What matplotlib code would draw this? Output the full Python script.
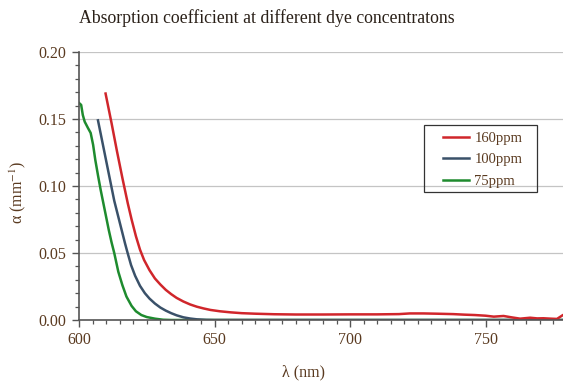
import matplotlib
matplotlib.use("Agg")
import matplotlib.pyplot as plt
from matplotlib.ticker import MultipleLocator
from matplotlib.patches import Rectangle

plt.rcParams['font.family'] = ['Liberation Serif', 'DejaVu Serif']
plt.rcParams['mathtext.fontset'] = 'stix'

# values
wl_160 = [609.8, 612.0, 614.0, 616.0, 618.0, 619.4, 621.0, 622.5, 624.0, 626.0, 628.0,
          630.0, 632.0, 634.0, 636.0, 638.5, 641.0, 643.5, 646.0, 648.5, 652.0, 656.0,
          660.0, 665.0, 672.0, 680.0, 690.0, 700.0, 710.0, 718.0, 722.0, 727.0, 732.0,
          738.0, 742.0, 746.0, 750.0, 753.0, 756.6, 759.5, 762.7, 766.4, 769.0, 771.3,
          774.0, 776.3, 778.5, 780.0]
a_160 = [0.169, 0.147, 0.126, 0.106, 0.087, 0.075, 0.0625, 0.0525, 0.0448, 0.0372, 0.031,
         0.0265, 0.0225, 0.0193, 0.0165, 0.0138, 0.0116, 0.0099, 0.0086, 0.0075, 0.0065, 0.0057,
         0.0051, 0.0047, 0.0043, 0.0041, 0.0041, 0.0042, 0.0042, 0.0044, 0.0049, 0.0049, 0.0047,
         0.0044, 0.0040, 0.0037, 0.0032, 0.0025, 0.0030, 0.0020, 0.0010, 0.0017, 0.0012, 0.0013,
         0.0010, 0.0008, 0.0037, 0.0045]

wl_100 = [607.0, 609.0, 611.0, 612.0, 613.0, 614.0, 615.0, 616.0, 617.0, 617.8, 619.2,
          620.7, 622.5, 624.3, 626.0, 628.0, 630.0, 632.0, 634.0, 636.0, 638.5, 641.0,
          643.5, 647.0, 650.0, 780.0]
a_100 = [0.149, 0.129, 0.109, 0.099, 0.089, 0.081, 0.073, 0.065, 0.057, 0.051, 0.041,
         0.0330, 0.0255, 0.0200, 0.0160, 0.0123, 0.0093, 0.0070, 0.0051, 0.0035, 0.0020, 0.0011,
         0.0005, 0.0001, 0.0, 0.0]

wl_75 = [600.0, 600.8, 601.4, 602.1, 603.3, 604.3, 605.2, 606.0, 607.0, 608.0, 609.0,
         610.0, 611.0, 612.0, 613.0, 614.5, 616.0, 617.5, 619.4, 621.0, 623.0, 625.0,
         628.0, 631.0, 634.0, 780.0]
a_75 = [0.162, 0.1605, 0.153, 0.148, 0.1433, 0.1396, 0.1308, 0.1196, 0.108, 0.097, 0.087,
        0.077, 0.067, 0.058, 0.050, 0.036, 0.026, 0.0175, 0.0105, 0.0065, 0.0037, 0.0022,
        0.0010, 0.0002, 0.0, 0.0]

labels = ['160ppm', '100ppm', '75ppm']
colors = ['#d0262b', '#3a5169', '#1e8b2e']

tick_color = '#5a3a20'
W, H = 563, 381

fig = plt.figure(figsize=(5.63, 3.81), dpi=100)
ax = fig.add_axes([79 / W, 1 - 320 / H, 488 / W, 268 / H])

l75, = ax.plot(wl_75, a_75, color=colors[2], lw=1.8, zorder=3)
l100, = ax.plot(wl_100, a_100, color=colors[1], lw=1.8, zorder=4)
l160, = ax.plot(wl_160, a_160, color=colors[0], lw=1.8, zorder=5)

ax.set_xlim(600, 780)
ax.set_ylim(0, 0.20)
ax.xaxis.set_major_locator(MultipleLocator(50))
ax.xaxis.set_minor_locator(MultipleLocator(5))
ax.yaxis.set_major_locator(MultipleLocator(0.05))
ax.yaxis.set_minor_locator(MultipleLocator(0.01))
ax.yaxis.set_major_formatter(plt.FuncFormatter(lambda v, p: f"{v:.2f}"))

ax.grid(axis='y', which='major', color='#c4c4c4', lw=0.9, zorder=1)
for s in ['top', 'right']:
    ax.spines[s].set_visible(False)
for s in ['left', 'bottom']:
    ax.spines[s].set_color('#555555')
    ax.spines[s].set_linewidth(1.2)
    ax.spines[s].set_zorder(6)

ax.tick_params(which='major', direction='out', length=5, width=1, color='#555555',
               labelsize=11.5, labelcolor=tick_color, pad=4)
ax.tick_params(which='minor', direction='out', length=3, width=0.9, color='#555555')

ax.set_xlabel('λ (nm)', fontsize=11.5, color=tick_color)
ax.set_ylabel(r'α (mm$^{-1}$)', fontsize=11.5, color=tick_color)
ax.xaxis.set_label_coords((304 - 79) / 488, (320 - 364) / 268)
ax.yaxis.set_label_coords((28 - 79) / 488, (320 - 192) / 268)

fig.text(267 / W, 1 - 18 / H, 'Absorption coefficient at different dye concentratons',
         ha='center', va='center', fontsize=12.8, color='#2a2018')

# legend frame drawn on its own, entries placed inside it
fig.patches.append(Rectangle((424 / W, 1 - 192 / H), 113 / W, 67 / H,
                             transform=fig.transFigure, fill=False,
                             edgecolor='#333333', lw=0.9, zorder=7))
leg = ax.legend([l160, l100, l75], labels, loc='upper left',
                bbox_to_anchor=(443 / W, 1 - 132 / H), bbox_transform=fig.transFigure,
                fontsize=10.5, frameon=False, handlelength=1.8,
                handletextpad=0.35, borderpad=0, labelspacing=0.55,
                borderaxespad=0)
leg.set_zorder(8)
for t in leg.get_texts():
    t.set_color(tick_color)

fig.savefig('out.png', dpi=100)
